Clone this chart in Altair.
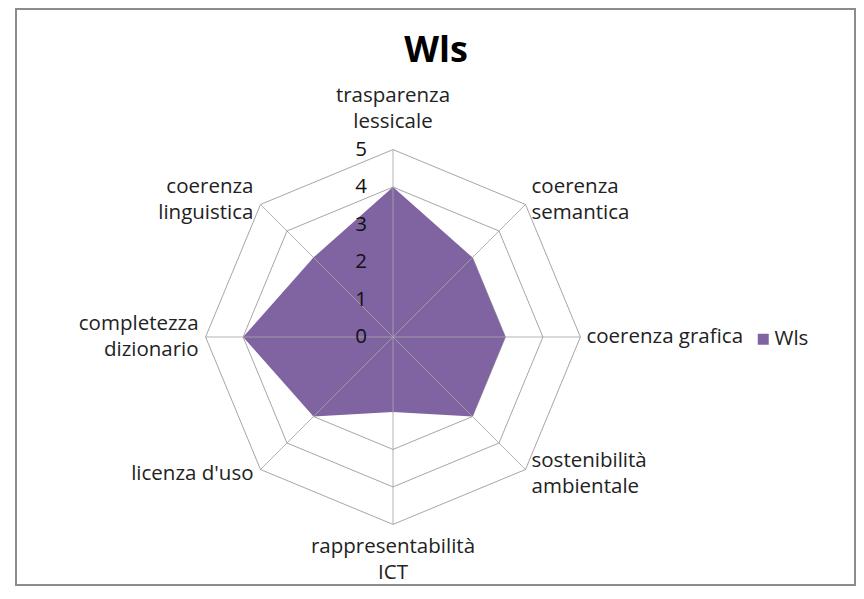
import math
import altair as alt
import pandas as pd

# ---- data ----
categories = [
    "trasparenza lessicale", "coerenza semantica", "coerenza grafica",
    "sostenibilità ambientale", "rappresentabilità ICT", "licenza d'uso",
    "completezza dizionario", "coerenza linguistica",
]
label_text = [
    "trasparenza\nlessicale", "coerenza\nsemantica", "coerenza grafica",
    "sostenibilità\nambientale", "rappresentabilità\nICT", "licenza d'uso",
    "completezza\ndizionario", "coerenza\nlinguistica",
]
values = [4, 3, 3, 3, 2, 3, 4, 3]
ticks = [0, 1, 2, 3, 4, 5]
series_name = "Wls"
chart_title = ["Wls"]

# ---- layout ----
W, H = 848, 578
K = 37.48            # pixels per unit
CX, CY = 385, 329    # centre of the radar in plot pixels
RMAX = max(ticks)
N = len(categories)
xdom = [-CX / K, (W - CX) / K]
ydom = [-(H - CY) / K, CY / K]
FONT = "Open Sans"
FS = 20.5
LH = 26
PURPLE = "#8064A2"
GRID = "#a6a6a6"

cat_df = pd.DataFrame({
    "cat": categories, "label": label_text, "value": values,
    "idx": list(range(N)), "series": [series_name] * N,
})
ring_df = pd.DataFrame(
    [{"ring": r, "idx": i} for r in ticks[1:] for i in range(N)]
)
tick_df = pd.DataFrame({"t": ticks, "lbl": [str(t) for t in ticks]})
title_df = pd.DataFrame({"title": chart_title})

xs = alt.Scale(domain=xdom, nice=False, zero=False)
ys = alt.Scale(domain=ydom, nice=False, zero=False)

angle = f"datum.idx * 2 * PI / {N}"

rings = alt.Chart(ring_df).transform_calculate(
    ang=angle
).transform_calculate(
    px="datum.ring * sin(datum.ang)", py="datum.ring * cos(datum.ang)"
).mark_line(interpolate="linear-closed", color=GRID, strokeWidth=1).encode(
    x=alt.X("px:Q", scale=xs, axis=None),
    y=alt.Y("py:Q", scale=ys, axis=None),
    detail="ring:N",
    order="idx:Q",
)

polygon = alt.Chart(cat_df).transform_calculate(
    ang=angle
).transform_calculate(
    px="datum.value * sin(datum.ang)", py="datum.value * cos(datum.ang)"
).mark_line(interpolate="linear-closed", filled=True, strokeWidth=0).encode(
    x=alt.X("px:Q", scale=xs, axis=None),
    y=alt.Y("py:Q", scale=ys, axis=None),
    order="idx:Q",
    color=alt.Color(
        "series:N",
        scale=alt.Scale(domain=[series_name], range=[PURPLE]),
        legend=alt.Legend(
            orient="none", legendX=745, legendY=321, title=None,
            symbolType="square", symbolSize=121, symbolStrokeWidth=0,
            labelFont=FONT, labelFontSize=FS, labelColor="#222222",
            labelOffset=1, padding=0,
        ),
    ),
)

spokes = alt.Chart(cat_df).transform_calculate(
    ang=angle
).transform_calculate(
    x0="0", y0="0",
    px=f"{RMAX} * sin(datum.ang)", py=f"{RMAX} * cos(datum.ang)",
).mark_rule(color=GRID, strokeWidth=1, opacity=0.85).encode(
    x=alt.X("x0:Q", scale=xs, axis=None),
    y=alt.Y("y0:Q", scale=ys, axis=None),
    x2="px:Q",
    y2="py:Q",
)

tick_text = alt.Chart(tick_df).transform_calculate(x0="0").mark_text(
    align="right", baseline="middle", dx=-26, font=FONT, fontSize=FS,
    color="#111111",
).encode(
    x=alt.X("x0:Q", scale=xs, axis=None),
    y=alt.Y("t:Q", scale=ys, axis=None),
    text="lbl:N",
)

lab_base = alt.Chart(cat_df).transform_calculate(
    ang=angle
).transform_calculate(
    s="sin(datum.ang)", c="cos(datum.ang)",
    nl="length(split(datum.label, '\\n'))",
).transform_calculate(
    grp="datum.s > 0.01 ? 'L' : (datum.s < -0.01 ? 'R' : 'C')"
).transform_calculate(
    lx=f"{RMAX} * datum.s",
    ly=(f"{RMAX} * datum.c + (datum.c * (datum.grp == 'C' ? "
        f"(datum.c > 0 ? 41 : 36) : 7)"
        f" + (datum.nl - 1) * {LH / 2}) / {K}"),
)


def lab_layer(grp, align, dx):
    return lab_base.transform_filter(f"datum.grp == '{grp}'").mark_text(
        align=align, baseline="middle", dx=dx, font=FONT, fontSize=FS,
        lineBreak="\n", lineHeight=LH, color="#222222",
    ).encode(
        x=alt.X("lx:Q", scale=xs, axis=None),
        y=alt.Y("ly:Q", scale=ys, axis=None),
        text="label:N",
    )


labels = alt.layer(
    lab_layer("L", "left", 6),
    lab_layer("R", "right", -7),
    lab_layer("C", "center", 0),
)

title = alt.Chart(title_df).mark_text(
    font=FONT, fontSize=36, fontWeight="bold", align="center",
    baseline="alphabetic", color="#000000",
).encode(x=alt.value(428), y=alt.value(54), text="title:N")

frame = alt.Chart(alt.Data(values=[{}])).mark_rect(
    fill="transparent", stroke="#8c8c8c", strokeWidth=2
).encode(
    x=alt.value(8), x2=alt.value(847), y=alt.value(1), y2=alt.value(577)
)

chart = alt.layer(
    frame, rings, polygon, spokes, tick_text, labels, title
).properties(
    width=W, height=H, padding=0, autosize="none",
).configure_view(strokeWidth=0)

chart.save("out.html", embed_options={"renderer": "svg", "actions": False})
